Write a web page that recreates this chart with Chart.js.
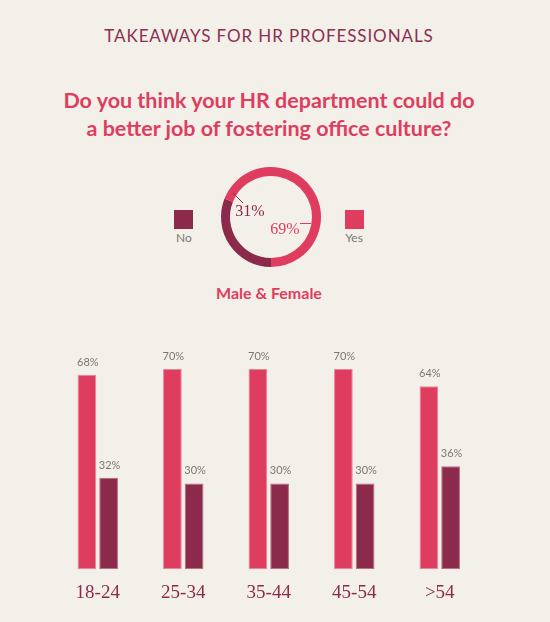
<!DOCTYPE html>
<html>
<head>
<meta charset="utf-8">
<script src="https://cdn.jsdelivr.net/npm/chart.js@4.4.0/dist/chart.umd.min.js"></script>
<style>
  html, body { margin:0; padding:0; }
  body { width:550px; height:622px; background:#f3f0ea; position:relative; overflow:hidden; font-family:Lato, "Open Sans", sans-serif; }
  .t { position:absolute; transform:translate(-50%,-50%); white-space:nowrap; }
  #kicker { left:269px; top:35px; font-size:17px; color:#8c2f50; letter-spacing:0.9px; }
  #question { left:269px; top:114px; font-size:21.5px; font-weight:700; color:#df3d5f; text-align:center; line-height:28px; }
  #sub { left:269px; top:292px; font-size:16px; font-weight:700; color:#df3d5f; }
  .sq { position:absolute; width:19px; height:19px; }
  .lg { font-size:12px; color:#7d7773; }
  #donutWrap { position:absolute; left:210px; top:156px; width:122px; height:122px; }
  #barWrap { position:absolute; left:0; top:320px; width:550px; height:302px; }
</style>
</head>
<body>
<div class="t" id="kicker">TAKEAWAYS FOR HR PROFESSIONALS</div>
<div class="t" id="question">Do you think your HR department could do<br>a better job of fostering office culture?</div>
<div class="sq" id="sqNo" style="left:174px; top:210px;"></div>
<div class="t lg" id="lgNo" style="left:184px; top:237px;"></div>
<div class="sq" id="sqYes" style="left:345px; top:210px;"></div>
<div class="t lg" id="lgYes" style="left:354px; top:237px;"></div>
<div class="t" id="sub">Male &amp; Female</div>
<div id="donutWrap"><canvas id="donut" width="122" height="122"></canvas></div>
<div id="barWrap"><canvas id="bars" width="550" height="302"></canvas></div>
<script>
// ---- data ----
const overallLabels = ["No", "Yes"];
const overallValues = [31, 69];
const ageGroups = ["18-24", "25-34", "35-44", "45-54", ">54"];
const yesValues = [68, 70, 70, 70, 64];
const noValues = [32, 30, 30, 30, 36];

const PINK = "#df3d5f";
const MAROON = "#8c2a4b";
const GREY = "#7d7773";

document.getElementById("sqNo").style.background = MAROON;
document.getElementById("sqYes").style.background = PINK;
document.getElementById("lgNo").textContent = overallLabels[0];
document.getElementById("lgYes").textContent = overallLabels[1];

// ---- doughnut ----
const donutLabels = {
  id: "donutLabels",
  afterDatasetsDraw(chart) {
    const ctx = chart.ctx;
    const arc = chart.getDatasetMeta(0).data[0];
    const cx = arc.x, cy = arc.y;
    const vals = chart.data.datasets[0].data;
    ctx.save();
    ctx.font = "16px 'Liberation Serif', serif";
    ctx.textAlign = "center";
    ctx.textBaseline = "middle";
    ctx.strokeStyle = MAROON; ctx.lineWidth = 1;
    ctx.beginPath(); ctx.moveTo(cx - 38, cy - 24); ctx.lineTo(cx - 28, cy - 14); ctx.stroke();
    ctx.fillStyle = MAROON;
    ctx.fillText(vals[0] + "%", cx - 21, cy - 5);
    ctx.strokeStyle = PINK;
    ctx.beginPath(); ctx.moveTo(cx + 29, cy + 6.5); ctx.lineTo(cx + 40, cy + 6.5); ctx.stroke();
    ctx.fillStyle = PINK;
    ctx.fillText(vals[1] + "%", cx + 14, cy + 13);
    ctx.restore();
  }
};

new Chart(document.getElementById("donut"), {
  type: "doughnut",
  data: {
    labels: overallLabels,
    datasets: [{ data: overallValues, backgroundColor: [MAROON, PINK], borderWidth: 0 }]
  },
  options: {
    responsive: false,
    animation: false,
    rotation: 180,
    cutout: "82%",
    layout: { padding: 11 },
    plugins: { legend: { display: false }, tooltip: { enabled: false } }
  },
  plugins: [donutLabels]
});

// ---- bars ----
const barLabels = {
  id: "barLabels",
  afterDatasetsDraw(chart) {
    const ctx = chart.ctx;
    ctx.save();
    ctx.font = "11px Lato, sans-serif";
    ctx.fillStyle = GREY;
    ctx.textAlign = "center";
    ctx.textBaseline = "middle";
    chart.data.datasets.forEach((ds, di) => {
      chart.getDatasetMeta(di).data.forEach((bar, i) => {
        ctx.fillText(ds.data[i] + "%", bar.x + 1, bar.y - 12.7);
      });
    });
    ctx.restore();
  }
};

new Chart(document.getElementById("bars"), {
  type: "bar",
  data: {
    labels: ageGroups,
    datasets: [
      { label: "Yes", data: yesValues, backgroundColor: PINK, borderColor: "#ec8397", borderWidth: 1, borderSkipped: false },
      { label: "No", data: noValues, backgroundColor: MAROON, borderColor: "#b46a82", borderWidth: 1, borderSkipped: false }
    ]
  },
  options: {
    responsive: false,
    animation: false,
    categoryPercentage: 0.508,
    barPercentage: 0.862,
    layout: { padding: { left: 55, right: 67.5, top: 9, bottom: 6 } },
    scales: {
      x: {
        grid: { display: false, drawTicks: false },
        border: { display: false },
        ticks: { color: MAROON, padding: 12, font: { family: "'Liberation Serif', serif", size: 19 } }
      },
      y: { display: false, min: 0, max: 84 }
    },
    plugins: { legend: { display: false }, tooltip: { enabled: false } }
  },
  plugins: [barLabels]
});
</script>
</body>
</html>
